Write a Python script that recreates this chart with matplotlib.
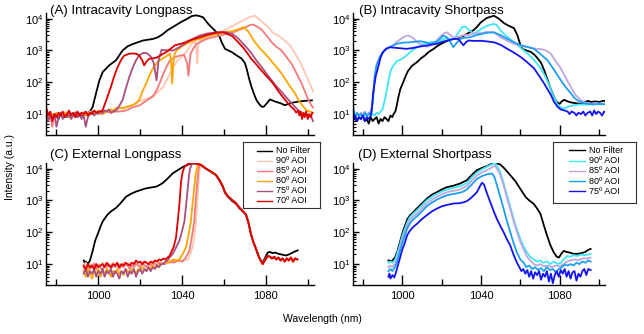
import matplotlib
matplotlib.use('Agg')
import matplotlib.pyplot as plt
from matplotlib.ticker import LogLocator, NullFormatter, FixedLocator

plt.rcParams['font.family'] = ['Liberation Sans', 'DejaVu Sans']
plt.rcParams['mathtext.default'] = 'regular'

# ---------------- data (wavelength nm, intensity a.u.) ----------------
A_NOFILTER = [(975,10),(976,9),(977,11),(978,8),(979,10),(980,9),(981,7),(982,10),(983,8),(984,11),(985,9),(986,8),(987,10),(988,9),(989,11),(990,8),(991,10),(992,9),(993,11),(994,10),(995,11),(996,12),(997.3,17),(998.9,45),(1000.5,115),(1002.1,210),(1005.2,340),(1008.4,490),(1010,700),(1011.6,1000),(1014,1350),(1016.6,1600),(1021.3,2050),(1026.1,2300),(1028.5,2600),(1030.9,3300),(1033,4300),(1035.5,5400),(1039.5,7800),(1042,9500),(1044.6,12000),(1046.5,12600),(1047.7,12300),(1050,11000),(1052.5,6800),(1054.5,5000),(1056.5,3700),(1058,2600),(1058.9,1800),(1060.5,1120),(1063.7,890),(1066,700),(1068.5,550),(1070,400),(1070.8,270),(1072,130),(1073.2,70),(1074.5,40),(1075.6,27),(1077,20),(1078,17),(1079,17),(1080.5,22),(1082,29),(1083,27),(1085,24),(1087,22),(1089,19),(1091,21),(1093,23),(1096,25),(1098.7,26),(1102,27)]
A_90 = [(975,12),(976,9),(977,11),(978,8),(979,10),(980,9),(981,11),(982,10),(983,9),(984,12),(985,10),(986,9),(987,11),(988,10),(989,12),(990,9),(991,11),(992,10),(993,12),(994,11),(995,10),(996,12),(997,11),(998,12),(1000,11),(1002,13),(1004,12),(1006,14),(1008,13),(1010,15),(1012,16),(1014,18),(1016.7,19),(1019,24),(1021.5,28),(1024,32),(1026.3,35),(1028.5,50),(1031,71),(1033.5,150),(1035.8,300),(1038,500),(1040.6,690),(1042.5,1000),(1044.6,1600),(1046.2,1900),(1046.8,1000),(1047.3,400),(1047.7,1500),(1049,2200),(1051.7,2600),(1055,3100),(1058.1,3700),(1061,4600),(1064.5,6000),(1067,7500),(1069.2,8700),(1072,11000),(1074.5,12300),(1077,9500),(1079,7000),(1081.2,5400),(1083.5,3500),(1085.9,2950),(1088.5,2200),(1091.5,1450),(1094,800),(1096.3,440),(1098,250),(1099.5,150),(1101,90),(1102.7,50)]
A_85 = [(975,10),(976,8),(977,11),(978,4),(979,9),(980,10),(981,8),(982,11),(983,9),(984,10),(985,8),(986,11),(987,9),(988,10),(989,8),(990,11),(991,9),(992,10),(993,11),(994,9),(995,10),(996,11),(998,10),(1000,11),(1002,10),(1004,12),(1006,11),(1008,12),(1010,12),(1013.5,13),(1016,16),(1019.9,19),(1022,24),(1024.7,31),(1026.5,40),(1027.8,56),(1029.5,100),(1031,186),(1032.5,300),(1034.2,490),(1036,600),(1039,690),(1041,720),(1042.4,400),(1043,160),(1043.6,400),(1044.1,800),(1045.5,1200),(1047,1620),(1051.7,2300),(1058.1,2950),(1064.5,3700),(1067.6,4500),(1069.5,5000),(1072.5,6300),(1074,6500),(1076,5500),(1078,4500),(1080.5,2800),(1082.8,1800),(1085,1300),(1087.5,1000),(1090,600),(1092.3,380),(1094.5,200),(1097.1,91),(1099,45),(1100.3,28),(1101.5,20),(1102.5,16)]
A_80 = [(975,9),(976,11),(977,8),(978,10),(979,9),(980,11),(981,8),(982,10),(983,9),(984,11),(985,10),(986,8),(987,10),(988,9),(989,11),(990,10),(991,9),(992,11),(993,10),(994,9),(995,11),(996,10),(997,12),(998,10),(999,11),(1000,13),(1001,10),(1002,12),(1003,11),(1004,13),(1005,12),(1006,14),(1007,12),(1008,15),(1010,16),(1012,15),(1014,17),(1016,19),(1017.5,21),(1019.6,28),(1021,50),(1022.8,91),(1024.5,170),(1026,270),(1028.3,430),(1030,520),(1032,620),(1034.2,800),(1034.8,400),(1035.3,91),(1035.8,400),(1036.5,800),(1037.4,1000),(1040,1350),(1042.2,1620),(1045,2000),(1048.5,2300),(1052,2800),(1056.5,3300),(1060,3700),(1064.5,4100),(1067.6,4800),(1069.3,5400),(1071.5,4000),(1074.8,1800),(1077,1200),(1079.6,800),(1082,520),(1084.4,340),(1087,210),(1089.1,130),(1091.5,75),(1093.9,45),(1096,25),(1097.9,17),(1099.5,13),(1101,12),(1102.5,11)]
A_75 = [(975,13),(976,6),(977,9),(978,7),(979,10),(980,4),(981,8),(982,11),(983,7),(984,9),(985,8),(986,10),(987,7),(988,9),(989,11),(990,8),(991,10),(992,7),(993,9),(994,4),(995,8),(996,10),(997,12),(998,9),(999,11),(1000,10),(1001,12),(1002,11),(1003,13),(1004,12),(1005,14),(1006,11),(1007,12),(1008.4,13),(1010,18),(1011.6,28),(1013,60),(1014.8,148),(1016.5,300),(1018,490),(1019.5,700),(1021.2,830),(1023,830),(1025,650),(1026.5,400),(1027.8,115),(1028.8,500),(1030.2,1050),(1033,1000),(1035.8,1000),(1039,1300),(1042.2,1800),(1045,2300),(1048.5,2950),(1052,3400),(1056.5,3700),(1061,3700),(1064,3300),(1066.5,2500),(1068.5,1800),(1071,1200),(1073.2,800),(1075.5,480),(1078,300),(1080.5,180),(1082.8,115),(1085,75),(1087.5,50),(1089.5,35),(1091.5,25),(1093.5,18),(1095.5,13),(1097,11),(1098,9),(1099.5,10),(1100.5,8),(1101.5,9),(1102.5,6)]
A_70 = [(975,18),(976,9),(977,12),(978,6),(979,10),(980,8),(981,11),(982,9),(983,12),(984,8),(985,10),(986,13),(987,9),(988,11),(989,8),(990,12),(991,9),(992,11),(993,10),(994,12),(995,9),(996,11),(997,10),(998,13),(999,11),(1000,12),(1001,12),(1002,13),(1004,30),(1006,71),(1007.5,150),(1009.2,300),(1011,520),(1012.4,690),(1014.8,790),(1016.5,800),(1018,790),(1019.5,700),(1021,480),(1021.9,340),(1023,450),(1024.3,550),(1026,560),(1028,600),(1030,720),(1032.6,900),(1036.6,1450),(1040.6,1700),(1044,2100),(1048.5,2600),(1052,3100),(1057.3,3700),(1060,3700),(1064,2800),(1066.5,1900),(1069,1260),(1071,850),(1073,550),(1075.5,360),(1078,230),(1080.5,150),(1083,100),(1085,65),(1086.5,47),(1088.5,32),(1090.5,22),(1092,17),(1093.5,14),(1094.5,11),(1095.5,13),(1096,9),(1096.7,12),(1097.3,7),(1098,11),(1098.6,8),(1099.2,12),(1100,7),(1100.7,10),(1101.4,8),(1102.2,11)]

B_NOFILTER = [(975,8),(976,7),(977,6),(978,8),(979,7),(980,9),(981,6),(982,7),(983,5),(984,8),(985,6),(986,7),(987,8),(988,5),(989,7),(990,6),(991,8),(992,7),(993,6),(994,9),(995,8),(995.6,10),(996.5,12),(997.1,17),(998.1,35),(999,60),(1000.5,100),(1001.8,160),(1003,230),(1005,330),(1007.3,420),(1009.5,560),(1011.6,700),(1013.5,900),(1015.8,1100),(1018,1400),(1020.9,1750),(1023.5,2100),(1026,2300),(1028.5,2600),(1031,2800),(1033.5,3500),(1036.2,4300),(1038,5500),(1039.8,7500),(1041.5,9000),(1043,10500),(1046.6,12300),(1049,10000),(1051.7,7200),(1054,6000),(1056.8,5000),(1058.5,3000),(1060,1500),(1061,1120),(1063,1000),(1065.3,900),(1067.5,700),(1070.4,420),(1072,250),(1073.8,120),(1075.5,60),(1077.2,33),(1078.5,24),(1080,21),(1081,25),(1082.3,28),(1084,25),(1086,23),(1088,22),(1090.8,21),(1092.5,23),(1094.2,26),(1096,24),(1098,25),(1100,24),(1102,26),(1103.5,26)]
B_90 = [(975,16),(976,9),(977,10),(978,8),(979,11),(980,9),(981,10),(982,8),(983,11),(984,9),(985,10),(986,9),(987,11),(988,10),(989,12),(990,14),(991,25),(992,50),(993,110),(994,220),(995,300),(997.1,450),(1000,550),(1002.3,700),(1005,1000),(1008,1300),(1011,1600),(1014.1,1800),(1017.7,1900),(1019.5,2000),(1022.6,2500),(1025,2200),(1027,2600),(1030.4,5400),(1032,5600),(1034,4300),(1036.4,3300),(1039.8,4600),(1043.2,6000),(1046.6,6800),(1048,6300),(1050,4200),(1053,2800),(1056.8,1800),(1060.2,1200),(1063.6,800),(1067,500),(1070.4,270),(1072.5,160),(1074.7,80),(1076.5,40),(1078.9,20),(1080.5,16),(1082.3,15),(1084,17),(1087.4,19),(1090,20),(1094.2,20),(1098,21),(1101,20),(1103.5,21)]
B_85 = [(975,12),(976,8),(977,10),(978,9),(979,11),(980,10),(981,12),(982,9),(983,11),(984,12),(984.8,20),(985.5,60),(986,160),(987,350),(988,500),(989.5,800),(992,1100),(995.4,1450),(998,2000),(1000.5,2600),(1003,2950),(1005,2600),(1007.3,1900),(1010,1500),(1012.6,1300),(1014.5,1450),(1017,1900),(1019.5,2800),(1021.5,3500),(1022.8,3700),(1024.5,3000),(1026.5,2500),(1029,2700),(1031,3000),(1034,3100),(1036.2,3400),(1039.8,3500),(1043,3800),(1046.6,3700),(1050,2600),(1053.4,2000),(1056.8,1600),(1060.2,1400),(1063.6,1260),(1067,1150),(1070.4,1100),(1073,1000),(1075.5,790),(1078,450),(1080.6,270),(1083,140),(1085.7,70),(1088,40),(1090.8,27),(1093,23),(1095.9,21),(1099,22),(1101,21),(1103.5,22)]
B_80 = [(975,10),(976,8),(977,11),(978,9),(979,10),(980,8),(981,11),(982,9),(983,10),(984,11),(984.4,13),(985.2,30),(986,150),(987,350),(988.6,620),(990.3,900),(992,1120),(995,1400),(997.1,1600),(1000,1750),(1003.9,1800),(1009,1950),(1012,1800),(1014.1,1600),(1017,1800),(1019.5,2400),(1020.9,2950),(1022.5,2600),(1024.5,1800),(1026,1260),(1027.5,1700),(1029.4,2300),(1032,2500),(1034.5,2600),(1037.5,3000),(1040.5,3300),(1043.2,3600),(1046.6,3700),(1050,3000),(1053.4,2300),(1056.8,1800),(1060.2,1450),(1063.6,1300),(1067,1120),(1070.4,750),(1073.8,490),(1077,250),(1080.6,115),(1083,70),(1085.7,45),(1087.5,32),(1089.1,27),(1091.5,23),(1094.2,21),(1097,20),(1100,21),(1103.5,20)]
B_75 = [(975,22),(975.5,7),(976,9),(977,6),(978,8),(979,7),(980,9),(981,6),(982,8),(983,7),(984,9),(984.5,12),(985.2,45),(986.5,150),(987.8,300),(989,600),(990.3,900),(992,1150),(993.7,1260),(997.1,1200),(1002.2,1120),(1005.5,1200),(1009,1320),(1013,1450),(1017.5,1620),(1021,1900),(1024.3,2150),(1026.5,2300),(1028.6,2300),(1029.8,1800),(1031.1,1450),(1032.3,1800),(1033.7,2050),(1036,2000),(1040.5,2000),(1043.5,1900),(1046.6,1800),(1050,1500),(1053.4,1120),(1056.8,850),(1060.2,620),(1063.6,420),(1067,270),(1069.5,160),(1072.1,91),(1073.8,60),(1075.5,40),(1077,25),(1078.9,17),(1080.5,14),(1082.3,13),(1084,12),(1085,10),(1086,12),(1087.4,11),(1088.5,9),(1089.5,11),(1090.8,10),(1092,12),(1093,9),(1094.2,11),(1095.5,12),(1096.5,9),(1097.5,13),(1098.5,10),(1099.5,12),(1100.5,11),(1101.5,9),(1102.5,12),(1103.5,11)]

C_NOFILTER = [(993,13),(993.5,11),(994,12),(995,10),(996,13),(997.3,26),(998.5,55),(999.7,87),(1001,150),(1002.1,220),(1004.4,360),(1006,450),(1008.4,580),(1010.5,800),(1013.2,1300),(1015.5,1600),(1018,1900),(1022.8,2400),(1027.5,2700),(1029,3000),(1030.7,3500),(1033,4800),(1035.5,7100),(1038,9000),(1040.3,11200),(1043,13500),(1045,15000),(1047.4,14100),(1049.5,12000),(1051.4,10000),(1054,7700),(1056.2,6200),(1058,4000),(1059.4,2700),(1060.5,1700),(1061.8,1320),(1064.1,930),(1065.5,800),(1067.3,575),(1069,450),(1070.5,360),(1071.7,200),(1072.9,87),(1074,50),(1075.3,30),(1076.5,18),(1077.5,13),(1078.5,11.5),(1079.5,15),(1080.9,23),(1082,24),(1083.2,22),(1084.5,23),(1086,21),(1087.5,20),(1089.6,18.6),(1091,20),(1092.8,23),(1094,25),(1095.2,27)]
C_TAIL = [(1049.5,12500),(1051.4,10000),(1054,7900),(1056.2,6300),(1058,4200),(1059.4,2800),(1060.5,1800),(1061.8,1380),(1064.1,1000),(1065.5,850),(1067.3,600),(1069,460),(1070.5,360),(1071.7,200),(1072.9,87),(1074,50),(1075.3,30),(1076.5,18),(1077.5,13),(1078.5,10),(1079.5,13),(1080.9,18),(1082,17),(1083,15),(1084,17),(1085,14),(1086,16),(1087,13),(1088,15),(1089,12),(1090,15),(1091,13),(1092,16),(1093,12),(1094,15),(1095,14)]
C_90 = [(993,9),(994,11),(995,8),(996,10),(997,9),(998,11),(999,8),(1000,10),(1001,9),(1002,11),(1003,10),(1004,8),(1005,10),(1006,9),(1007,11),(1008,10),(1009,8),(1010,10),(1011,9),(1012,11),(1013,10),(1014,9),(1015,11),(1016,10),(1017,9),(1018,11),(1019,10),(1020,9),(1021,11),(1022,10),(1023,12),(1024,10),(1025,11),(1026,9),(1027,11),(1028,10),(1029,12),(1030,11),(1031,10),(1032,12),(1033,11),(1034,12),(1035,11),(1036,12),(1037,13),(1038,12),(1039,13),(1040,12),(1041,13),(1043,14),(1045,34),(1046,90),(1046.6,220),(1047.2,800),(1047.7,2400),(1048.1,6000),(1048.5,10000),(1049,12000)]
C_85 = [(993,8),(994,6),(995,9),(996,7),(997,8),(998,10),(999,7),(1000,9),(1001,8),(1002,6),(1003,9),(1004,8),(1005,10),(1006,7),(1007,9),(1008,8),(1009,10),(1010,7),(1011,9),(1012,8),(1013,10),(1014,9),(1015,7),(1016,9),(1017,8),(1018,10),(1019,9),(1020,8),(1021,10),(1022,9),(1023,8),(1024,10),(1025,9),(1026,11),(1027,10),(1028,9),(1029,11),(1030,10),(1031,11),(1032,10),(1033,12),(1034,11),(1035,12),(1036,11),(1037,12),(1038,13),(1040,12),(1041.5,15),(1043.5,26),(1044.8,80),(1045.8,220),(1046.4,800),(1047,2400),(1047.5,6000),(1047.9,10000),(1048.5,13000),(1049,13500)]
C_80 = [(993,6),(994,4),(995,7),(996,5),(997,3.5),(998,6),(999,5),(1000,7),(1001,4),(1002,6),(1003,5),(1004,7),(1005,6),(1006,4),(1007,6),(1008,5),(1009,7),(1010,5),(1011,6),(1012,4.5),(1013,7),(1014,6),(1015,5),(1016,7),(1017,6),(1018,5),(1019,7),(1020,6),(1021,8),(1022,7),(1023,6),(1024,8),(1025,7),(1026,9),(1027,8),(1028,8),(1029,9),(1030,10),(1031,10),(1032,11),(1033,11),(1034,12),(1035,13),(1036,14),(1037,13),(1038.7,14),(1040.5,22),(1041.9,34),(1043,80),(1044.2,220),(1045,800),(1045.8,2400),(1046.4,6000),(1047,10000),(1047.7,13500),(1048.5,14000)]
C_75 = [(993,5),(994,7),(995,4),(996,6),(997,5),(998,7),(999,4),(1000,6),(1001,5),(1002,7),(1003,4),(1004,6),(1005,5),(1006,7),(1007,4),(1008,6),(1009,5),(1010,3.5),(1011,6),(1012,5),(1013,7),(1014,4),(1015,6),(1016,5),(1017,7),(1018,4),(1019,6),(1020,7),(1021,5),(1022,7),(1023,6),(1024,8),(1025,6),(1026,8),(1027,7),(1028,9),(1029,8),(1030,10),(1031,10),(1032,12),(1033,13),(1034,16),(1035.5,21),(1037,32),(1038.7,54),(1040,110),(1041.1,220),(1042,800),(1042.7,2400),(1043.3,6000),(1043.8,10000),(1044.5,13000),(1045.5,14500),(1047,14500),(1048.5,13300)]
C_70 = [(993,9),(994,7),(995,10),(996,8),(997,9),(998,7),(999,10),(1000,8),(1001,9),(1002,10),(1003,8),(1004,11),(1005,9),(1006,8),(1007,10),(1008,9),(1009,11),(1010,8),(1011,10),(1012,9),(1013,11),(1014,10),(1015,9),(1016,11),(1017,10),(1018,13),(1019,11),(1020,12),(1021,10),(1022,12),(1023,11),(1024,10),(1025,12),(1026,11),(1027,13),(1028,12),(1029,14),(1030,13),(1031,15),(1032,14),(1033,16),(1034,18),(1035,25),(1036,35),(1037.1,68),(1038,250),(1038.7,740),(1039.5,3900),(1040.3,8000),(1041.1,11200),(1042.5,13500),(1043.5,14500),(1045,15000),(1046.5,14500),(1048,13500),(1049,13000)]

D_NOFILTER = [(993,13),(993.4,13),(994.5,12),(995.5,14),(996.3,16),(997.5,25),(998.8,48),(1000,90),(1001.4,160),(1002.5,250),(1003.9,340),(1005.5,420),(1007.3,550),(1010,800),(1012.4,1120),(1015,1500),(1017.5,1800),(1020,2200),(1022.6,2600),(1026,2900),(1029.4,3400),(1031,3800),(1032.8,4300),(1035,6000),(1037.9,8900),(1040.5,10500),(1043,12000),(1046.4,15000),(1048,14500),(1049.8,13500),(1052,10000),(1054.9,6200),(1057.5,4000),(1060,2300),(1062.6,1300),(1064.5,1000),(1066.8,780),(1068.5,560),(1070.2,380),(1072,160),(1073.6,78),(1075.2,40),(1077,23),(1078.5,17),(1079.6,16),(1081,22),(1082.1,26),(1083.5,24),(1085,23),(1087,21),(1089,21),(1091,22),(1093,24),(1094.5,28),(1095.7,30)]
D_90 = [(993,11),(994,12),(995,11),(996.3,13),(997.5,22),(998.8,40),(1000,75),(1001.4,130),(1002.5,200),(1003.9,300),(1005.5,380),(1007.3,480),(1010,700),(1012.4,1000),(1015,1300),(1017.5,1600),(1020,1900),(1022.6,2200),(1026,2500),(1029.4,2800),(1031,3100),(1032.8,3500),(1035,5000),(1037.9,7500),(1040.5,9500),(1043,11500),(1045.5,13500),(1047.3,15000),(1048.5,11000),(1049.8,7800),(1051.5,3500),(1053.2,1450),(1055,600),(1056.6,260),(1058.3,120),(1060,62),(1061.7,35),(1063.4,23),(1065,17),(1066.8,14),(1068.5,12),(1070,13),(1071.5,11),(1073.6,12),(1075,10),(1077,12),(1079,10),(1080.5,11),(1082,14),(1083.8,18),(1085.5,17),(1087,19),(1089,18),(1091,20),(1093,19),(1095.7,21)]
D_85 = [(993,8),(994,9),(995,8),(996.3,10),(997.5,15),(998.8,32),(1000,60),(1001.4,100),(1002.5,160),(1003.9,240),(1005.5,310),(1007.3,380),(1010,560),(1012.4,800),(1015,1050),(1017.5,1300),(1020,1550),(1022.6,1800),(1026,2000),(1029.4,2200),(1031,2500),(1032.8,2800),(1035,4000),(1037.9,6000),(1040.5,7600),(1043,9000),(1045.5,10800),(1047,12500),(1048.5,9000),(1049.8,6300),(1051.5,3000),(1053.2,1200),(1055,500),(1056.6,220),(1058.3,100),(1060,50),(1061.7,28),(1063.4,17),(1065,13),(1066.8,10),(1068.5,9),(1070,10),(1072,8.5),(1074,9),(1076,8),(1078,9),(1080,8.5),(1082,10),(1083.8,12),(1085.5,13),(1087.5,14),(1089.5,13),(1091.5,15),(1093.5,15),(1095.7,16)]
D_80 = [(993,6),(994,7),(995,6),(996.3,8),(997.5,12),(998.8,25),(1000,45),(1001.4,80),(1002.5,130),(1003.9,190),(1005.5,250),(1007.3,310),(1010,450),(1012.4,650),(1015,850),(1017.5,1050),(1020,1250),(1022.6,1450),(1026,1600),(1029.4,1750),(1031,1900),(1032.8,2200),(1035,3000),(1037.9,4700),(1040.5,5800),(1043,6600),(1045.6,7000),(1046.8,5500),(1048.1,3000),(1049.8,1300),(1051.5,550),(1053.2,220),(1054.9,100),(1056.6,45),(1058.3,23),(1060,14),(1061.7,11),(1063,8),(1064.5,9),(1066,7),(1067.5,8),(1069,6.5),(1070.5,7.5),(1072,6),(1073.5,8),(1075,6.5),(1076.5,7),(1078,5.5),(1079.5,7),(1081,8),(1082.5,9.5),(1084,9),(1085.5,10),(1087,9),(1088.5,11),(1090,10),(1091.5,12),(1093,11),(1094.5,13),(1095.7,12)]
D_75 = [(993,4),(993.5,5),(994,3.5),(995,4.5),(996,3.8),(997,6),(998,10),(998.8,15),(1000,28),(1001.4,48),(1002.5,80),(1003.9,112),(1005.5,145),(1007.3,180),(1010,260),(1012.4,340),(1015,450),(1017.5,550),(1020,650),(1022.6,720),(1026,800),(1029.4,820),(1031,870),(1032.8,950),(1035,1200),(1037.9,1800),(1039.5,2800),(1040.5,3600),(1041.5,3200),(1043,1700),(1044.7,890),(1046.5,450),(1048.1,260),(1050,150),(1051.5,100),(1053.2,60),(1054.9,38),(1056.5,20),(1058.3,11),(1059.5,8),(1060.5,6),(1061.5,7),(1062.5,5),(1063.5,6.5),(1064.5,4),(1065.5,6),(1066.5,3.5),(1067.5,5.5),(1068.5,4.5),(1069.5,6),(1070.5,3.2),(1071.5,5),(1072.5,4),(1073.5,6),(1074.5,2.8),(1075.5,5),(1076.5,2.5),(1077.5,4.5),(1078.5,6),(1079.5,4),(1080.5,6.5),(1081.5,5),(1082.5,7),(1083.5,4),(1084.5,6),(1085.5,3.5),(1086.5,5.5),(1087.5,6),(1088.5,3),(1089.5,5),(1090.5,4),(1091.5,6),(1092.5,7),(1093.5,4.5),(1094.5,7),(1095.7,6.5)]

LONG_LABELS = ['No Filter', '90º AOI', '85º AOI', '80º AOI', '75º AOI', '70º AOI']
SHORT_LABELS = ['No Filter', '90º AOI', '85º AOI', '80º AOI', '75º AOI']
LONG_COLORS = ['#000000', '#FFC6B4', '#F47A7A', '#FFA500', '#A8507E', '#DD0000']
SHORT_COLORS = ['#000000', '#3FE6F6', '#C0A6E0', '#1E9EF0', '#1414F0']
TITLES = ['(A) Intracavity Longpass', '(B) Intracavity Shortpass',
          '(C) External Longpass', '(D) External Shortpass']

XMAJOR = [1000, 1040, 1080]
XMINOR = [980, 1020, 1060, 1100]

# ---------------- figure ----------------
W, H = 644, 334
fig = plt.figure(figsize=(W / 100, H / 100), dpi=100)

def add_ax(l, t, r, b, **kw):
    return fig.add_axes([l / W, 1 - b / H, (r - l) / W, (b - t) / H], **kw)

axA = add_ax(46, 13, 314, 135)
axB = add_ax(353, 13, 605, 135)
axC = add_ax(46, 163, 314, 285)
axD = add_ax(353, 163, 605, 285)

def draw(ax, curves, colors, labels):
    for c, col, lab in zip(curves, colors, labels):
        x = [p[0] for p in c]
        y = [p[1] for p in c]
        ax.plot(x, y, color=col, lw=1.3, label=lab, solid_joinstyle='round')

draw(axA, [A_NOFILTER, A_90, A_85, A_80, A_75, A_70], LONG_COLORS, LONG_LABELS)
draw(axB, [B_NOFILTER, B_90, B_85, B_80, B_75], SHORT_COLORS, SHORT_LABELS)
draw(axC, [C_NOFILTER, C_90 + C_TAIL, C_85 + C_TAIL, C_80 + C_TAIL, C_75 + C_TAIL, C_70 + C_TAIL],
     LONG_COLORS, LONG_LABELS)
draw(axD, [D_NOFILTER, D_90, D_85, D_80, D_75], SHORT_COLORS, SHORT_LABELS)

for i, ax in enumerate([axA, axB, axC, axD]):
    ax.set_yscale('log')
    ax.set_xlim(975, 1103)
    ax.set_ylim(2.2, 15000)
    for s in ['top', 'right']:
        ax.spines[s].set_visible(False)
    for s in ['left', 'bottom']:
        ax.spines[s].set_linewidth(1.0)
    ax.xaxis.set_major_locator(FixedLocator(XMAJOR))
    ax.xaxis.set_minor_locator(FixedLocator(XMINOR))
    ax.yaxis.set_major_locator(LogLocator(base=10, numticks=10))
    ax.yaxis.set_minor_locator(LogLocator(base=10, subs=range(2, 10), numticks=10))
    ax.yaxis.set_minor_formatter(NullFormatter())
    ax.tick_params(axis='x', which='major', direction='in', length=7, width=1.0, labelsize=8, pad=4)
    ax.tick_params(axis='x', which='minor', direction='in', length=4, width=1.0)
    ax.tick_params(axis='y', which='major', direction='in', length=4, width=1.0, labelsize=8, pad=2)
    ax.tick_params(axis='y', which='minor', direction='in', length=2, width=0.8)
    if i < 2:
        ax.tick_params(axis='x', labelbottom=False)

title_pos = [(50, 14), (359, 14), (50, 158), (358, 158)]
for (tx, ty), t in zip(title_pos, TITLES):
    fig.text(tx / W, 1 - ty / H, t, fontsize=9.5, va='baseline', ha='left')

# legend boxes (drawn in a pixel-coordinate helper axes)
def legend_box(l, t, r, b, line_x0, line_x1, text_x, row0, step, colors, labels):
    lax = add_ax(l, t, r, b, zorder=5)
    lax.set_xlim(l, r)
    lax.set_ylim(b, t)
    lax.set_xticks([])
    lax.set_yticks([])
    lax.set_facecolor('white')
    for s in lax.spines.values():
        s.set_linewidth(0.8)
        s.set_color('#333333')
    for k, (col, lab) in enumerate(zip(colors, labels)):
        yy = row0 + k * step
        lax.plot([line_x0, line_x1], [yy, yy], color=col, lw=1.0)
        lax.text(text_x, yy, lab, fontsize=6.5, va='center', ha='left')

legend_box(243, 142, 320, 208, 257, 272, 276, 150.5, 10.0, LONG_COLORS, LONG_LABELS)
legend_box(553, 142, 636, 203, 569, 585, 589, 150.5, 10.2, SHORT_COLORS, SHORT_LABELS)

fig.text(10 / W, 1 - 167 / H, 'Intensity (a.u.)', rotation=90, fontsize=7.5, ha='center', va='center')
fig.text(322 / W, 1 - 319 / H, 'Wavelength (nm)', fontsize=7.5, ha='center', va='center')

fig.savefig('out.png', dpi=100)
